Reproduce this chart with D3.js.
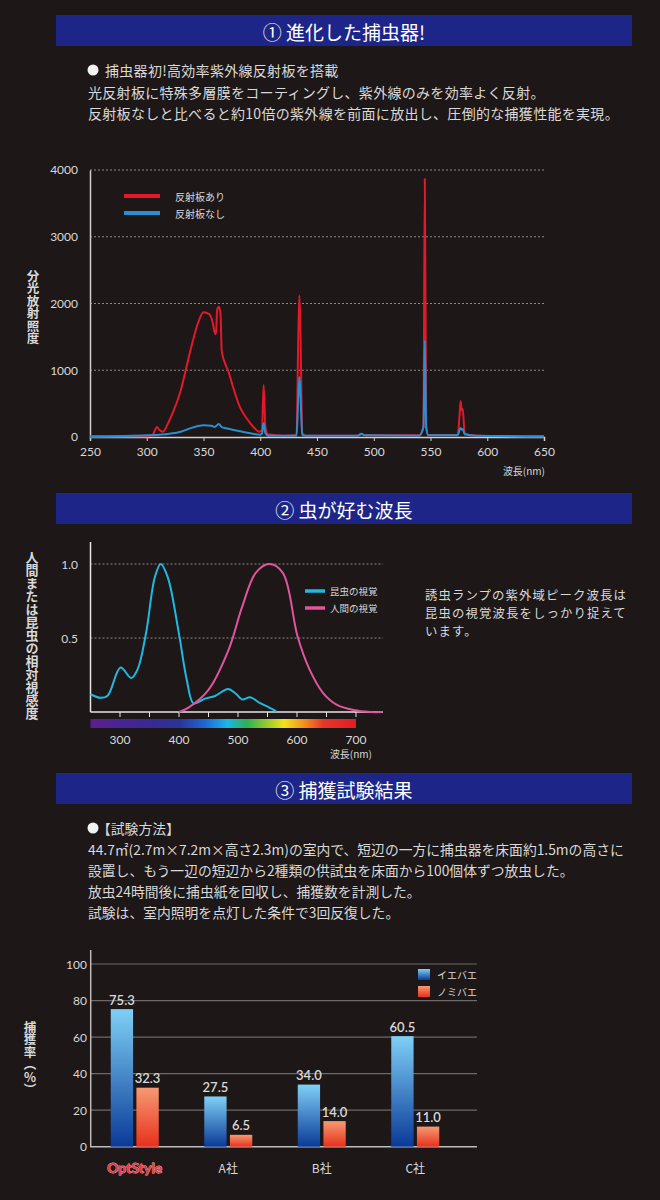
<!DOCTYPE html>
<html>
<head>
<meta charset="utf-8">
<script src="https://cdn.jsdelivr.net/npm/d3@7"></script>
<style>
  body { margin: 0; background: #1d1717; }
  svg { display: block; font-family: "Noto Sans CJK JP", "Noto Sans", sans-serif; }
</style>
</head>
<body>
<div id="chart"></div>
<script>
// ---- data ----
const headers = ["① 進化した捕虫器!", "② 虫が好む波長", "③ 捕獲試験結果"];

const intro1 = [
  "捕虫器初!高効率紫外線反射板を搭載",
  "光反射板に特殊多層膜をコーティングし、紫外線のみを効率よく反射。",
  "反射板なしと比べると約10倍の紫外線を前面に放出し、圧倒的な捕獲性能を実現。"
];
const sideText2 = ["誘虫ランプの紫外域ピーク波長は", "昆虫の視覚波長をしっかり捉えて", "います。"];
const intro3 = [
  "【試験方法】",
  "44.7㎡(2.7m×7.2m×高さ2.3m)の室内で、短辺の一方に捕虫器を床面約1.5mの高さに",
  "設置し、もう一辺の短辺から2種類の供試虫を床面から100個体ずつ放虫した。",
  "放虫24時間後に捕虫紙を回収し、捕獲数を計測した。",
  "試験は、室内照明を点灯した条件で3回反復した。"
];

// chart 1: spectral irradiance [nm, value]
const spectrumTicks = [250, 300, 350, 400, 450, 500, 550, 600, 650];
const irradianceTicks = [0, 1000, 2000, 3000, 4000];
const seriesNames1 = ["反射板あり", "反射板なし"];
const withReflector = [
  [250,5],[300,10],[305,30],[309,150],[311,110],[314,80],[320,250],[325,450],[330,700],
  [335,1050],[340,1400],[345,1700],[350,1870],[355,1840],[358,1720],[360,1560],[361,1540],
  [362,1900],[363.5,1950],[365,1850],[366,1300],[368,1150],[372,980],[376,750],[382,450],
  [388,280],[394,150],[399,80],[401.5,100],[403,780],[404.5,150],[407,40],[420,20],[432,30],
  [433.5,1500],[434.5,2120],[435.5,1500],[437,60],[440,20],[486,20],[489,45],[492,25],
  [540,25],[543.8,150],[545,3870],[546.2,150],[548,30],[574,30],[575.5,300],[576.5,540],
  [577.5,400],[578.5,420],[580,60],[585,30],[600,15],[650,8]
];
const withoutReflector = [
  [250,10],[280,15],[300,25],[320,50],[330,80],[340,140],[350,175],[357,170],[360,150],
  [362,180],[363.5,195],[366,150],[370,130],[380,95],[390,60],[400,35],[401.5,50],[403,210],
  [404.5,60],[407,20],[432,20],[433.5,600],[434.5,900],[435.5,600],[437,30],[440,20],
  [486,20],[489,50],[492,25],[540,20],[543.8,150],[545,1450],[546.2,150],[548,25],[574,25],
  [575.5,100],[576.5,135],[577.5,110],[578.5,120],[580,40],[590,20],[650,10]
];

// chart 2: relative luminous sensitivity [nm, value]
const visionTicks = [300, 400, 500, 600, 700];
const visionMinorTicks = [300, 350, 400, 450, 500, 550, 600, 650, 700];
const sensitivityTicks = [0.5, 1.0];
const seriesNames2 = ["昆虫の視覚", "人間の視覚"];
const insectVision = [
  [250,0.12],[267,0.096],[279,0.11],[301,0.30],[319,0.23],[330,0.29],[344,0.53],[359,0.91],
  [369,1.0],[381,0.91],[399,0.55],[413,0.22],[424,0.06],[433,0.067],[444,0.09],[461,0.108],
  [483,0.155],[496,0.125],[507,0.085],[521,0.10],[536,0.063],[553,0.03],[565,0.005]
];
const humanVision = [
  [400,0],[416,0.03],[450,0.15],[484,0.42],[507,0.71],[530,0.94],[553,1.0],[576,0.94],
  [601,0.51],[621,0.29],[644,0.13],[667,0.05],[696,0.013],[724,0],[745,0]
];
const spectrumStops = [
  [250,"#5a1f90"],[340,"#3d2795"],[400,"#2a3399"],[445,"#1f68d6"],[482,"#1cb6e6"],
  [515,"#2fb055"],[555,"#a9cf2c"],[578,"#f2e21c"],[610,"#f29420"],[645,"#e8362a"],[700,"#e01d26"]
];

// chart 3: capture rate
const companies = ["OptStyle", "A社", "B社", "C社"];
const species = ["イエバエ", "ノミバエ"];
const houseFly = [75.3, 27.5, 34.0, 60.5];
const phoridFly = [32.3, 6.5, 14.0, 11.0];
const rateTicks = [0, 20, 40, 60, 80, 100];

// ---- drawing ----
const svg = d3.select("#chart").append("svg")
  .attr("width", 660).attr("height", 1200);

const defs = svg.append("defs");
const textColor = "#d9d9d9";
const numFont = "Lato, 'Noto Sans', sans-serif";

// section headers
const headerY = [15, 493, 773];
headers.forEach((h, i) => {
  svg.append("rect").attr("x", 56).attr("y", headerY[i]).attr("width", 576).attr("height", 31)
    .attr("fill", "#1e2588");
  svg.append("text").attr("x", 344).attr("y", headerY[i] + 16)
    .attr("text-anchor", "middle").attr("dominant-baseline", "central")
    .style("font-size", "19px").style("fill", "#fff")
    .text(h);
});

function paragraph(lines, x, y0, step, size, bulletGap, spacing) {
  lines.forEach((t, i) => {
    const bx = (i === 0 && bulletGap) ? bulletGap : 0;
    svg.append("text").attr("x", x + bx).attr("y", y0 + i * step)
      .attr("dominant-baseline", "central")
      .style("font-size", size + "px").style("fill", textColor)
      .style("letter-spacing", (spacing || 0) + "px")
      .text(t);
  });
  if (bulletGap) {
    svg.append("circle").attr("cx", x + 5).attr("cy", y0).attr("r", 5.5).attr("fill", "#f2f2f2");
  }
}
paragraph(intro1, 88, 70, 21.5, 14, 17, 0.3);
paragraph(sideText2, 425, 595, 18, 12.4, 0, 1.1);
paragraph(intro3, 88, 828, 21, 13.8, 9, 0);

function verticalTitle(t, x, y, size) {
  svg.append("text").attr("x", x).attr("y", y)
    .attr("text-anchor", "middle")
    .style("writing-mode", "vertical-rl")
    .style("font-size", size + "px").style("font-weight", 700).style("fill", textColor)
    .text(t);
}

// ---------- chart 1 ----------
const x1 = d3.scaleLinear().domain([250, 650]).range([90, 544]);
const y1 = d3.scaleLinear().domain([0, 4000]).range([437, 170]);

const g1 = svg.append("g");
g1.selectAll(".grid1").data(irradianceTicks.filter(d => d > 0)).join("line")
  .attr("x1", x1(250)).attr("x2", x1(650))
  .attr("y1", d => y1(d)).attr("y2", d => y1(d))
  .attr("stroke", "#8a8a8a").attr("stroke-width", 1).attr("stroke-dasharray", "2,2");

g1.append("g").attr("transform", `translate(0,${y1(0)})`)
  .call(d3.axisBottom(x1).tickValues(spectrumTicks).tickSize(4).tickPadding(6).tickFormat(d3.format("d")))
  .call(a => a.select(".domain").attr("stroke", "#cfcfcf").attr("stroke-width", 1.5))
  .call(a => a.selectAll(".tick line").attr("stroke", "#cfcfcf"))
  .call(a => a.selectAll(".tick text").style("font-size", "12px").style("fill", textColor)
    .style("font-family", numFont));

g1.append("g").attr("transform", `translate(${x1(250)},0)`)
  .call(d3.axisLeft(y1).tickValues(irradianceTicks).tickSize(0).tickPadding(12).tickFormat(d3.format("d")))
  .call(a => a.select(".domain").attr("stroke", "#cfcfcf").attr("stroke-width", 1.5))
  .call(a => a.selectAll(".tick text").style("font-size", "12px").style("fill", textColor)
    .style("font-family", numFont));

const line1 = d3.line().x(d => x1(d[0])).y(d => y1(d[1])).curve(d3.curveMonotoneX);
const colors1 = ["#e3192b", "#2a8fd2"];
[withReflector, withoutReflector].forEach((s, i) => {
  g1.append("path").datum(s).attr("d", line1)
    .attr("fill", "none").attr("stroke", colors1[i]).attr("stroke-width", 2)
    .attr("stroke-linejoin", "round");
});

seriesNames1.forEach((n, i) => {
  const ly = 196 + i * 17;
  g1.append("line").attr("x1", 124).attr("x2", 160).attr("y1", ly).attr("y2", ly)
    .attr("stroke", colors1[i]).attr("stroke-width", 4);
  g1.append("text").attr("x", 175).attr("y", ly).attr("dominant-baseline", "central")
    .style("font-size", "10px").style("fill", textColor).text(n);
});
g1.append("text").attr("x", 545).attr("y", 475).attr("text-anchor", "end")
  .style("font-size", "10px").style("fill", textColor).text("波長(nm)");
verticalTitle("分光放射照度", 33, 307, 12.5);

// ---------- chart 2 ----------
const x2 = d3.scaleLinear().domain([250, 750]).range([90.5, 385.5]);
const y2 = d3.scaleLinear().domain([0, 1]).range([712, 564]);
const g2 = svg.append("g");

g2.selectAll(".grid2").data(sensitivityTicks).join("line")
  .attr("x1", x2(250)).attr("x2", 383)
  .attr("y1", d => y2(d)).attr("y2", d => y2(d))
  .attr("stroke", "#8a8a8a").attr("stroke-dasharray", "2,2");

const grad = defs.append("linearGradient").attr("id", "spec")
  .attr("gradientUnits", "userSpaceOnUse")
  .attr("x1", x2(250)).attr("x2", x2(700)).attr("y1", 0).attr("y2", 0);
grad.selectAll("stop").data(spectrumStops).join("stop")
  .attr("offset", d => (d[0] - 250) / 450)
  .attr("stop-color", d => d[1]);
g2.append("rect").attr("x", x2(250)).attr("y", 719)
  .attr("width", x2(700) - x2(250)).attr("height", 9).attr("fill", "url(#spec)");

g2.append("line").attr("x1", x2(250)).attr("x2", 383).attr("y1", y2(0)).attr("y2", y2(0))
  .attr("stroke", "#e6e6e6").attr("stroke-width", 1.5);
g2.append("line").attr("x1", x2(250)).attr("x2", x2(250)).attr("y1", 542).attr("y2", y2(0))
  .attr("stroke", "#e6e6e6").attr("stroke-width", 1.5);
g2.selectAll(".tk2").data(visionMinorTicks).join("line")
  .attr("x1", d => x2(d)).attr("x2", d => x2(d)).attr("y1", y2(0)).attr("y2", y2(0) + 5)
  .attr("stroke", "#e6e6e6");
g2.selectAll(".xl2").data(visionTicks).join("text")
  .attr("x", d => x2(d)).attr("y", 739).attr("text-anchor", "middle").attr("dominant-baseline", "central")
  .style("font-size", "12px").style("fill", textColor)
  .style("font-family", numFont).text(d => d);
g2.selectAll(".yl2").data(sensitivityTicks).join("text")
  .attr("x", 78).attr("y", d => y2(d)).attr("text-anchor", "end").attr("dominant-baseline", "central")
  .style("font-size", "12px").style("fill", textColor)
  .style("font-family", numFont).text(d => d.toFixed(1));

const line2 = d3.line().x(d => x2(d[0])).y(d => y2(d[1])).curve(d3.curveCatmullRom);
const colors2 = ["#1fb9e2", "#e0559c"];
[insectVision, humanVision].forEach((s, i) => {
  g2.append("path").datum(s).attr("d", line2)
    .attr("fill", "none").attr("stroke", colors2[i]).attr("stroke-width", 2);
});
seriesNames2.forEach((n, i) => {
  const ly = 591 + i * 17;
  g2.append("line").attr("x1", 305).attr("x2", 325).attr("y1", ly).attr("y2", ly)
    .attr("stroke", colors2[i]).attr("stroke-width", 3.5);
  g2.append("text").attr("x", 330).attr("y", ly).attr("dominant-baseline", "central")
    .style("font-size", "9.5px").style("fill", textColor).text(n);
});
g2.append("text").attr("x", 372).attr("y", 753).attr("text-anchor", "end").attr("dominant-baseline", "central")
  .style("font-size", "10px").style("fill", textColor).text("波長(nm)");
verticalTitle("人間または昆虫の相対視感度", 32, 635, 13);

// ---------- chart 3 ----------
const x3 = d3.scaleBand().domain(companies).range([88, 462]);
const bw = x3.bandwidth();
const xs = d3.scaleBand().domain(species).range([bw / 2 - 24, bw / 2 + 24]).paddingInner(0.13);
const y3 = d3.scaleLinear().domain([0, 100]).range([1146.7, 964]);
const g3 = svg.append("g");

const gradBlue = defs.append("linearGradient").attr("id", "gBlue").attr("x1", 0).attr("x2", 0).attr("y1", 0).attr("y2", 1);
gradBlue.append("stop").attr("offset", 0).attr("stop-color", "#7fd0f6");
gradBlue.append("stop").attr("offset", 1).attr("stop-color", "#0a3a98");
const gradRed = defs.append("linearGradient").attr("id", "gRed").attr("x1", 0).attr("x2", 0).attr("y1", 0).attr("y2", 1);
gradRed.append("stop").attr("offset", 0).attr("stop-color", "#f59a72");
gradRed.append("stop").attr("offset", 1).attr("stop-color", "#e8301c");
const fills3 = ["url(#gBlue)", "url(#gRed)"];

g3.selectAll(".grid3").data(rateTicks.filter(d => d > 0)).join("line")
  .attr("x1", 90).attr("x2", 477).attr("y1", d => y3(d)).attr("y2", d => y3(d))
  .attr("stroke", "#6e6a6a").attr("stroke-width", 1.2);
g3.append("line").attr("x1", 90).attr("x2", 477).attr("y1", y3(0)).attr("y2", y3(0))
  .attr("stroke", "#bdbdbd").attr("stroke-width", 1.5);
g3.append("line").attr("x1", 90.7).attr("x2", 90.7).attr("y1", 950).attr("y2", y3(0))
  .attr("stroke", "#bdbdbd").attr("stroke-width", 1.5);
g3.selectAll(".yl3").data(rateTicks).join("text")
  .attr("x", 87).attr("y", d => y3(d)).attr("text-anchor", "end").attr("dominant-baseline", "central")
  .style("font-size", "12px").style("fill", textColor)
  .style("font-family", numFont).text(d => d);

const barData = [];
companies.forEach((c, i) => {
  barData.push({ c, s: species[0], v: houseFly[i], k: 0 });
  barData.push({ c, s: species[1], v: phoridFly[i], k: 1 });
});
g3.selectAll(".bar").data(barData).join("rect")
  .attr("x", d => x3(d.c) + xs(d.s)).attr("width", xs.bandwidth())
  .attr("y", d => y3(d.v)).attr("height", d => y3(0) - y3(d.v))
  .attr("fill", d => fills3[d.k]);
g3.selectAll(".val").data(barData).join("text")
  .attr("x", d => x3(d.c) + xs(d.s) + xs.bandwidth() / 2).attr("y", d => y3(d.v) - 4.5)
  .attr("text-anchor", "middle")
  .style("font-size", "13px").style("font-weight", 600).style("fill", textColor)
  .style("font-family", numFont)
  .text(d => d3.format(".1f")(d.v));

g3.selectAll(".cat").data(companies).join("text")
  .attr("x", d => x3(d) + bw / 2).attr("y", 1167).attr("text-anchor", "middle").attr("dominant-baseline", "central")
  .style("font-size", d => d === "OptStyle" ? "14px" : "12px")
  .style("font-family", d => d === "OptStyle" ? numFont : null)
  .style("font-weight", d => d === "OptStyle" ? 700 : 400)
  .style("fill", d => d === "OptStyle" ? "#e63a4a" : textColor)
  .style("stroke", d => d === "OptStyle" ? "#f6b2b8" : "none")
  .style("stroke-width", 0.8).style("paint-order", "stroke")
  .text(d => d);

species.forEach((n, i) => {
  const ly = 969 + i * 17;
  g3.append("rect").attr("x", 418).attr("y", ly).attr("width", 12).attr("height", 11).attr("fill", fills3[i]);
  g3.append("text").attr("x", 437).attr("y", ly + 5.5).attr("dominant-baseline", "central")
    .style("font-size", "10px").style("fill", textColor).text(n);
});
verticalTitle("捕獲率（％）", 30, 1058, 12.5);
</script>
</body>
</html>
